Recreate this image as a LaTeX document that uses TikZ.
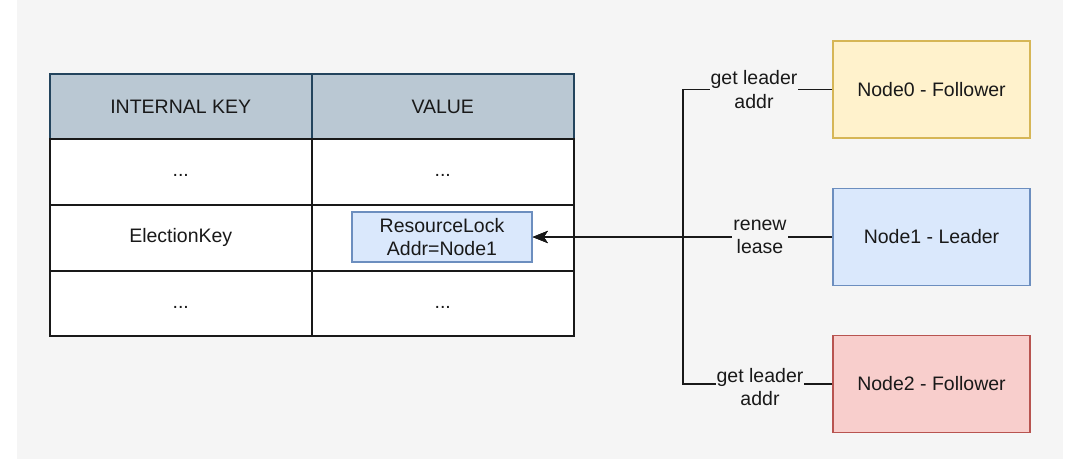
\documentclass[tikz,border=0pt]{standalone}
\usepackage{fontspec}
\setmainfont{Liberation Sans}
\usetikzlibrary{arrows.meta}
\definecolor{bg}{HTML}{F5F5F5}
\definecolor{hdrfill}{HTML}{BAC8D3}
\definecolor{hdrline}{HTML}{23445D}
\definecolor{bluefill}{HTML}{DAE8FC}
\definecolor{blueline}{HTML}{6C8EBF}
\definecolor{yelfill}{HTML}{FFF2CC}
\definecolor{yelline}{HTML}{D6B656}
\definecolor{redfill}{HTML}{F8CECC}
\definecolor{redline}{HTML}{B85450}
\tikzset{
  txt/.style={font=\fontsize{19.5}{23.5}\selectfont, text=black!90},
  cell/.style={draw=black!90, line width=1.5pt, fill=white, minimum width=262pt, minimum height=66pt, inner sep=0pt, anchor=north west, txt},
  hdr/.style={cell, fill=hdrfill, draw=hdrline},
  nodebox/.style={line width=1.5pt, minimum width=197pt, minimum height=97pt, inner sep=0pt, txt},
  lockbox/.style={draw=blueline, fill=bluefill, line width=1.5pt, minimum width=180pt, minimum height=50pt, inner sep=0pt, align=center, txt},
  conn/.style={draw=black!90, line width=1.5pt},
  arr/.style={conn, -{Stealth[length=15pt,width=12pt,inset=4pt]}},
  elabel/.style={fill=bg, align=center, inner sep=1pt, txt},
  dots/.style={txt, anchor=center, yshift=-4pt}
}
\begin{document}
\begin{tikzpicture}[x=1pt,y=-1pt]
\useasboundingbox (0,0) rectangle (1080,459);
\fill[white] (0,0) rectangle (1080,459);
\fill[bg] (17,0) rectangle (1063,459);
% table
\node[hdr] (h1) at (49,73) {INTERNAL KEY};
\node[hdr] (h2) at (311,73) {VALUE};
\node[cell] (r1a) at (49,138) {};
\node[cell] (r1b) at (311,138) {};
\node[cell] (r2a) at (49,204) {ElectionKey};
\node[cell] (r2b) at (311,204) {};
\node[cell, minimum height=65pt] (r3a) at (49,270) {};
\node[cell, minimum height=65pt] (r3b) at (311,270) {};
\node[dots] (d1a) at (r1a.center) {...};
\node[dots] (d1b) at (r1b.center) {...};
\node[dots] (d3a) at (r3a.center) {...};
\node[dots] (d3b) at (r3b.center) {...};
\node[lockbox] (lock) at (442,237) {ResourceLock\\Addr=Node1};
% nodes
\node[nodebox, draw=yelline, fill=yelfill] (n0) at (931.5,89.5) {Node0 - Follower};
\node[nodebox, draw=blueline, fill=bluefill] (n1) at (931.5,237) {Node1 - Leader};
\node[nodebox, draw=redline, fill=redfill] (n2) at (931.5,384) {Node2 - Follower};
% connectors
\coordinate (j0) at (683,89.5);
\coordinate (j2) at (683,384);
\coordinate (jm) at (683,237);
\draw[arr] (n0.west) -- (j0) -- (jm) -- (lock.east);
\draw[arr] (n2.west) -- (j2) -- (jm) -- (lock.east);
\draw[arr] (n1.west) -- (lock.east);
\node[elabel] (l0) at (754,89.5) {get leader\\addr};
\node[elabel] (l1) at (760,237) {renew\\lease};
\node[elabel] (l2) at (760,387) {get leader\\addr};
\end{tikzpicture}
\end{document}
